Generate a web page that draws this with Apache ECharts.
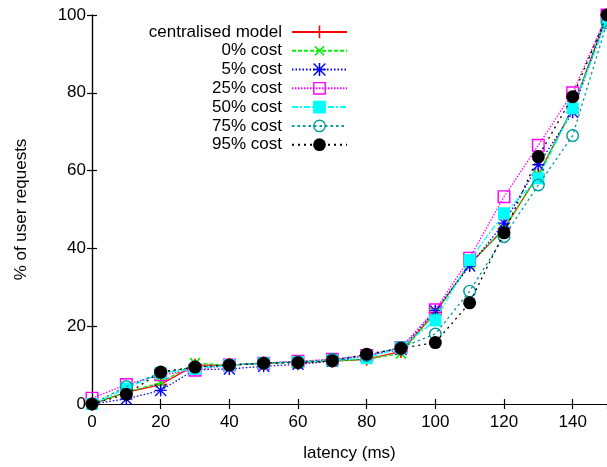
<!DOCTYPE html>
<html>
<head>
<meta charset="utf-8">
<script src="https://cdn.jsdelivr.net/npm/echarts@6/dist/echarts.min.js"></script>
<style>
html,body{margin:0;padding:0;background:#fff;}
#chart{width:607px;height:467px;}
</style>
</head>
<body>
<div id="chart"></div>
<script>
// ---- data ----
const latency = [0, 10, 20, 30, 40, 50, 60, 70, 80, 90, 100, 110, 120, 130, 140, 150];
const seriesNames = ['centralised model', '0% cost', '5% cost', '25% cost', '50% cost', '75% cost', '95% cost'];
const centralised = [0, 3, 5, 10, 10, 10.5, 10.8, 11, 11.5, 13.5, 23.5, 36, 45, 59, 76, 100];
const cost0  = [0, 3, 5.5, 10.5, 10, 10.5, 10.8, 11, 11.5, 13, 23.5, 36, 45, 59, 76, 100];
const cost5  = [0, 1.3, 3.5, 8.8, 9, 9.7, 10.2, 11, 12.5, 14, 24, 35.5, 46.5, 61.5, 75, 100];
const cost25 = [1.5, 5, 7.5, 8.7, 10, 10.5, 11, 11.5, 12.5, 14.5, 24.2, 37.5, 53.3, 66.5, 80, 100];
const cost50 = [0, 4, 8, 9, 10, 10.5, 10.8, 11.2, 11.8, 14.5, 21.5, 37, 49, 58, 76, 98.5];
const cost75 = [0, 4.5, 8, 9.5, 10, 10.5, 10.8, 11.5, 12.5, 14.5, 18, 29, 43, 56.3, 69, 98];
const cost95 = [0, 2.5, 8.2, 9.5, 10, 10.5, 10.6, 11.1, 12.8, 14.3, 15.8, 26, 44, 63.6, 79, 100];
const yTicks = [0, 20, 40, 60, 80, 100];
const xTicks = [0, 20, 40, 60, 80, 100, 120, 140];

const values = [centralised, cost0, cost5, cost25, cost50, cost75, cost95];

// ---- styles ----
const PLUS = 'path://M4.4,0H5.6V4.4H10V5.6H5.6V10H4.4V5.6H0V4.4H4.4Z';
const STAR = 'path://M4.4,0H5.6V4.4H10V5.6H5.6V10H4.4V5.6H0V4.4H4.4Z M0.8,0L5,4.2L9.2,0L10,0.8L5.8,5L10,9.2L9.2,10L5,5.8L0.8,10L0,9.2L4.2,5L0,0.8Z';
const OSQ = 'path://M0,0H10V10H0Z M1.1,1.1V8.9H8.9V1.1Z';
const OCIRC = 'path://M5,0A5,5 0 1,1 5,10A5,5 0 1,1 5,0Z M5,1.1A3.9,3.9 0 1,0 5,8.9A3.9,3.9 0 1,0 5,1.1Z';

const styles = [
  {color: '#ff0000', symbol: PLUS, size: 13, rotate: 0, dash: 'solid'},
  {color: '#00ee00', symbol: PLUS, size: 14, rotate: 45, dash: [4, 2]},
  {color: '#0000ff', symbol: STAR, size: 12, rotate: 0, dash: [1.5, 2]},
  {color: '#ff00ff', symbol: OSQ, size: 13, rotate: 0, dash: [1.5, 1.5]},
  {color: '#00ffff', symbol: 'rect', size: 12, rotate: 0, dash: [6, 2, 2, 2]},
  {color: '#009b9b', symbol: OCIRC, size: 13, rotate: 0, dash: [2.5, 3]},
  {color: '#000000', symbol: 'circle', size: 13, rotate: 0, dash: [2, 4]}
];

const FONT = "'Liberation Sans', Arial, Helvetica, sans-serif";

const series = seriesNames.map((name, i) => ({
  name: name,
  type: 'line',
  xAxisIndex: 0,
  yAxisIndex: 0,
  data: latency.map((x, j) => [x, values[i][j]]),
  symbol: styles[i].symbol,
  symbolSize: styles[i].size,
  symbolRotate: styles[i].rotate,
  showAllSymbol: true,
  clip: false,
  lineStyle: {color: styles[i].color, width: 1.3, type: styles[i].dash},
  itemStyle: {color: styles[i].color, borderWidth: 0},
  emphasis: {disabled: true},
  z: 2 + i
}));

const chart = echarts.init(document.getElementById('chart'), null, {renderer: 'canvas'});
const axisLineStyle = {color: '#000', width: 1.2};
chart.setOption({
  animation: false,
  backgroundColor: '#fff',
  textStyle: {fontFamily: FONT},
  grid: {left: 92, top: 15, width: 519.6, height: 389, containLabel: false},
  legend: {
    orient: 'vertical',
    align: 'right',
    right: 259,
    top: 22.5,
    padding: 0,
    itemGap: 0,
    itemWidth: 55,
    itemHeight: 16,
    data: seriesNames,
    selectedMode: false,
    textStyle: {fontFamily: FONT, fontSize: 17, color: '#000', lineHeight: 18.8, padding: [0, 5, 0, 0]}
  },
  xAxis: [{
    type: 'value', min: 0, max: 150, interval: 20, position: 'bottom',
    name: 'latency (ms)', nameLocation: 'middle', nameGap: 41,
    nameTextStyle: {fontFamily: FONT, fontSize: 17, color: '#000'},
    axisLine: {show: true, lineStyle: axisLineStyle},
    axisTick: {show: true, inside: true, length: 5, lineStyle: axisLineStyle},
    axisLabel: {fontFamily: FONT, fontSize: 17, color: '#000', margin: 10, showMaxLabel: false},
    splitLine: {show: false}
  }, {
    type: 'value', min: 0, max: 150, interval: 20, position: 'top',
    axisLine: {show: true, lineStyle: axisLineStyle},
    axisTick: {show: true, inside: true, length: 5, lineStyle: axisLineStyle},
    axisLabel: {show: false},
    splitLine: {show: false}
  }],
  yAxis: [{
    type: 'value', min: 0, max: 100, interval: 20, position: 'left',
    name: '% of user requests', nameLocation: 'middle', nameGap: 62, nameRotate: 90,
    nameTextStyle: {fontFamily: FONT, fontSize: 17, color: '#000'},
    axisLine: {show: true, lineStyle: axisLineStyle},
    axisTick: {show: true, inside: true, length: 5, lineStyle: axisLineStyle},
    axisLabel: {fontFamily: FONT, fontSize: 17, color: '#000', margin: 6},
    splitLine: {show: false}
  }, {
    type: 'value', min: 0, max: 100, interval: 20, position: 'right',
    axisLine: {show: true, lineStyle: axisLineStyle},
    axisTick: {show: true, inside: true, length: 5, lineStyle: axisLineStyle},
    axisLabel: {show: false},
    splitLine: {show: false}
  }],
  series: series
});
</script>
</body>
</html>
